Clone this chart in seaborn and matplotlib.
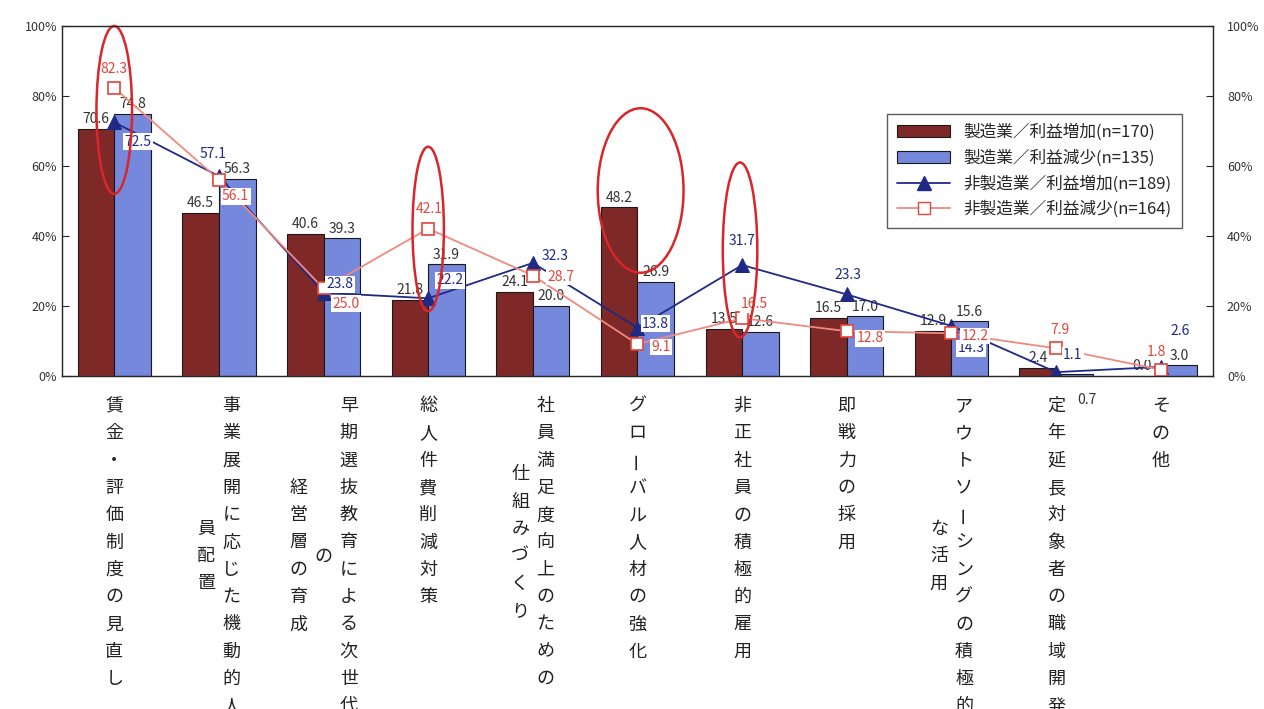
import numpy as np
import pandas as pd
import seaborn as sns
import matplotlib.pyplot as plt
from matplotlib import transforms
from matplotlib.patches import Ellipse, Patch
from matplotlib.lines import Line2D

# category labels ("\n" = next vertical column, right to left)
categories = [
    "賃金・評価制度の見直し",
    "事業展開に応じた機動的人\n員配置",
    "早期選抜教育による次世代\nの\n経営層の育成",
    "総人件費削減対策",
    "社員満足度向上のための\n仕組みづくり",
    "グローバル人材の強化",
    "非正社員の積極的雇用",
    "即戦力の採用",
    "アウトソーシングの積極的\nな活用",
    "定年延長対象者の職域開発",
    "その他",
]
series_names = [
    "製造業／利益増加(n=170)",
    "製造業／利益減少(n=135)",
    "非製造業／利益増加(n=189)",
    "非製造業／利益減少(n=164)",
]
mfg_up = [70.6, 46.5, 40.6, 21.8, 24.1, 48.2, 13.5, 16.5, 12.9, 2.4, 0.0]
mfg_down = [74.8, 56.3, 39.3, 31.9, 20.0, 26.9, 12.6, 17.0, 15.6, 0.7, 3.0]
nonmfg_up = [72.5, 57.1, 23.8, 22.2, 32.3, 13.8, 31.7, 23.3, 14.3, 1.1, 2.6]
nonmfg_down = [82.3, 56.1, 25.0, 42.1, 28.7, 9.1, 16.5, 12.8, 12.2, 7.9, 1.8]
y_ticks = [0, 20, 40, 60, 80, 100]

# highlighted categories (red ellipses)
circled = [0, 3, 5, 6]

maroon = "#7e2828"
blue = "#7688dc"
navy = "#1f2a86"
red = "#e2463c"

sns.set_style("white")
plt.rcParams["font.family"] = ["Noto Sans CJK JP", "DejaVu Sans"]

fig = plt.figure(figsize=(12.64, 7.09), dpi=100)
ax = fig.add_axes([0.049, 0.4697, 0.9107, 0.4936])

df = pd.DataFrame({
    "cat": categories * 2,
    "val": mfg_up + mfg_down,
    "series": [series_names[0]] * len(categories) + [series_names[1]] * len(categories),
})
sns.barplot(data=df, x="cat", y="val", hue="series", palette=[maroon, blue],
            saturation=1, width=0.7, edgecolor="#1a1a1a", linewidth=0.8,
            legend=False, ax=ax)

xpos = np.arange(len(categories))
sns.lineplot(x=xpos, y=nonmfg_up, color=navy, marker="^", markersize=10,
             markeredgecolor=navy, linewidth=1.3, ax=ax, zorder=4)
sns.lineplot(x=xpos, y=nonmfg_down, color="#f08a80", marker="s", markersize=8,
             markerfacecolor="white", markeredgecolor=red, markeredgewidth=1.2,
             linewidth=1.3, ax=ax, zorder=4)

# bar value labels
for ci, cont in enumerate(ax.containers[:2]):
    texts = ax.bar_label(cont, fmt="%.1f", padding=2, fontsize=10, color="#333333")
    if ci == 1:
        texts[9].xyann = (9, -14)
        texts[9].set_va("top")

# line value labels (offsets in points)
up_off = [(17, -14), (-4, 16), (12, 6), (16, 13), (16, 5), (13, 3),
          (0, 17), (1, 14), (14, -16), (12, 12), (14, 26)]
down_off = [(0, 14), (12, -12), (16, -11), (1, 14), (20, -1), (17, -2),
            (9, 10), (17, -5), (17, -2), (3, 13), (-3, 13)]
box = dict(boxstyle="square,pad=0.1", fc="white", ec="none")
for i in range(len(categories)):
    ax.annotate(f"{nonmfg_up[i]:.1f}", (i, nonmfg_up[i]), xytext=up_off[i],
                textcoords="offset points", ha="center", va="center",
                fontsize=10, color=navy, bbox=box, zorder=6)
    ax.annotate(f"{nonmfg_down[i]:.1f}", (i, nonmfg_down[i]), xytext=down_off[i],
                textcoords="offset points", ha="center", va="center",
                fontsize=10, color=red, bbox=box, zorder=6)

# red ellipses
ell_shape = {0: (0.0, 76, 0.34, 48), 3: (0.0, 42, 0.3, 47),
             5: (0.03, 53, 0.82, 47), 6: (-0.02, 36, 0.33, 50)}
for i in circled:
    dx, cy, w, h = ell_shape[i]
    ax.add_patch(Ellipse((i + dx, cy), w, h, fill=False, ec="#d8262a",
                         lw=1.8, zorder=8, clip_on=False))

ax.set_xlim(-0.5, len(categories) - 0.5)
ax.set_ylim(0, 100)
ax.set_xlabel("")
ax.set_ylabel("")
ax.set_xticks(np.arange(len(categories) - 1) + 0.5)
ax.set_xticklabels([])
ax.set_yticks(y_ticks)
ax.set_yticklabels([f"{t}%" for t in y_ticks], fontsize=9, color="#333333")
ax.tick_params(axis="both", direction="in", length=5, width=0.8)
for s in ax.spines.values():
    s.set_color("#444444")
    s.set_linewidth(1.0)

ax2 = ax.twinx()
ax2.set_ylim(0, 100)
ax2.set_yticks(y_ticks)
ax2.set_yticklabels([f"{t}%" for t in y_ticks], fontsize=9, color="#333333")
ax2.tick_params(axis="y", direction="in", length=5, width=0.8, pad=10)

# vertical category labels
lab_tr = transforms.blended_transform_factory(ax.transData, fig.transFigure)
row_h = 27.3 / 709
top_y = 1 - 406 / 709
col_w = 0.24
for i, cat in enumerate(categories):
    cols = cat.split("\n")
    n0 = len(cols[0])
    for k, col in enumerate(cols):
        x = i + (len(cols) - 1) / 2 * col_w - k * col_w
        start = (n0 - len(col)) / 2
        for r, ch in enumerate(col):
            ax.text(x, top_y - (start + r) * row_h, ch, transform=lab_tr,
                    ha="center", va="center", fontsize=13, color="#222222",
                    rotation=90 if ch == "ー" else 0)

handles = [
    Patch(fc=maroon, ec="#1a1a1a", lw=0.8),
    Patch(fc=blue, ec="#1a1a1a", lw=0.8),
    Line2D([], [], color=navy, marker="^", markersize=10, lw=1.3),
    Line2D([], [], color="#f08a80", marker="s", markersize=8, markerfacecolor="white",
           markeredgecolor=red, lw=1.3),
]
leg = fig.legend(handles, series_names, loc="upper right",
                 bbox_to_anchor=(0.9415, 0.8515), fontsize=12, frameon=True,
                 fancybox=False, edgecolor="#333333", handlelength=3.2,
                 labelspacing=0.5, borderpad=0.6)
leg.get_frame().set_linewidth(1.0)

fig.savefig("out.png", dpi=100)
